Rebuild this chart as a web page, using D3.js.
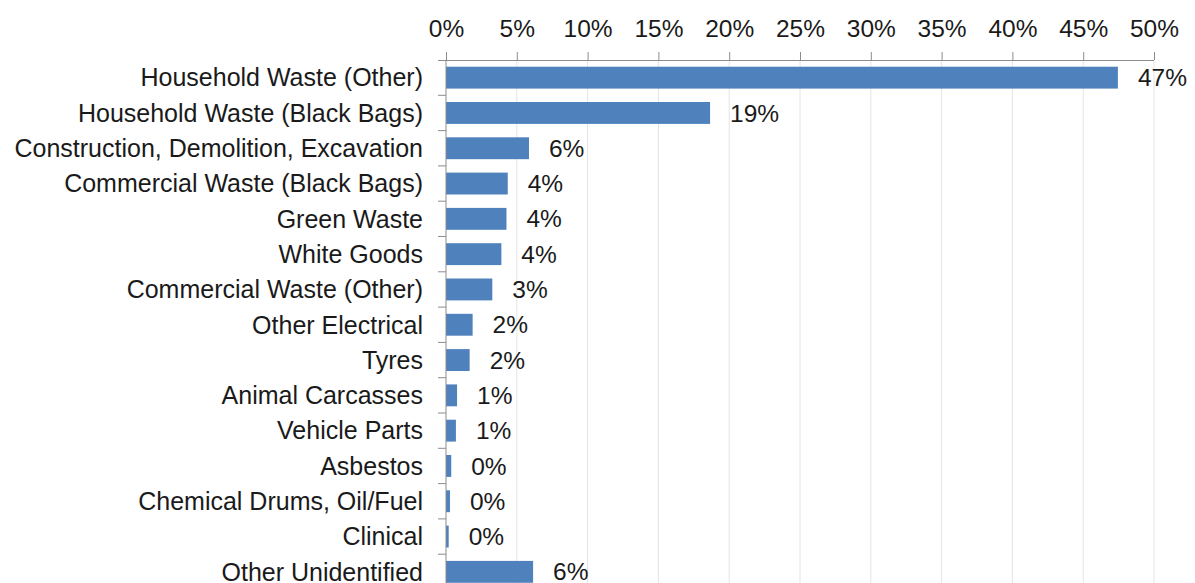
<!DOCTYPE html>
<html>
<head>
<meta charset="utf-8">
<script src="https://cdn.jsdelivr.net/npm/d3@7"></script>
<style>
  body { margin: 0; background: #fff; }
  text { font-family: "Liberation Sans", Arial, sans-serif; fill: #1a1a1a; }
</style>
</head>
<body>
<div id="chart"></div>
<script>
let width = 1195;
let height = 583;

// categories, top to bottom
const categories = [
  "Household Waste (Other)",
  "Household Waste (Black Bags)",
  "Construction, Demolition, Excavation",
  "Commercial Waste (Black Bags)",
  "Green Waste",
  "White Goods",
  "Commercial Waste (Other)",
  "Other Electrical",
  "Tyres",
  "Animal Carcasses",
  "Vehicle Parts",
  "Asbestos",
  "Chemical Drums, Oil/Fuel",
  "Clinical",
  "Other Unidentified"
];
// share of incidents in %
const shares = [47.45, 18.65, 5.86, 4.36, 4.27, 3.91, 3.27, 1.88, 1.67, 0.78, 0.7, 0.37, 0.28, 0.19, 6.15];
const xTicks = [0, 5, 10, 15, 20, 25, 30, 35, 40, 45, 50];

const data = categories.map((c, i) => ({ name: c, value: shares[i] }));

let svg = d3.select("#chart").append("svg")
  .attr("width", width)
  .attr("height", height);

const x = d3.scaleLinear()
  .domain([0, 50])
  .range([446, 1154]);

const y = d3.scaleBand()
  .domain(categories)
  .range([60, 589.5])
  .paddingInner(0.38)
  .paddingOuter(0.19);

// gridlines
svg.selectAll(".grid")
  .data(xTicks.slice(1))
  .join("line")
  .attr("class", "grid")
  .attr("x1", d => x(d))
  .attr("x2", d => x(d))
  .attr("y1", 60)
  .attr("y2", height)
  .attr("stroke", "#e4e4e4")
  .attr("stroke-width", 1);

// bars
svg.selectAll(".bar")
  .data(data)
  .join("rect")
  .attr("class", "bar")
  .attr("x", x(0))
  .attr("y", d => y(d.name))
  .attr("width", d => x(d.value) - x(0))
  .attr("height", y.bandwidth())
  .attr("fill", "#4f81bd");

// top axis
const axisColor = "#8c8c8c";
const topAxis = svg.append("g")
  .attr("transform", "translate(0,60)")
  .call(d3.axisTop(x).tickValues(xTicks).tickSize(8).tickPadding(15).tickFormat(d => d + "%"));
topAxis.select(".domain").attr("stroke", axisColor).attr("d", `M${x(0) - 8},0.5H${x(50)}`);
topAxis.selectAll(".tick line").attr("stroke", axisColor);
topAxis.selectAll(".tick text")
  .attr("font-size", "24.5px")
  .attr("font-family", "'Liberation Sans', Arial, sans-serif")
  .attr("fill", "#1a1a1a");

// left axis line + boundary ticks
const bounds = d3.range(categories.length + 1).map(i => 60 + i * y.step());
svg.append("line")
  .attr("x1", x(0)).attr("x2", x(0))
  .attr("y1", 60).attr("y2", height)
  .attr("stroke", axisColor);
svg.selectAll(".ytick")
  .data(bounds.slice(1))
  .join("line")
  .attr("class", "ytick")
  .attr("x1", x(0) - 8).attr("x2", x(0))
  .attr("y1", d => d).attr("y2", d => d)
  .attr("stroke", axisColor);

// category labels
svg.selectAll(".catlabel")
  .data(data)
  .join("text")
  .attr("class", "catlabel")
  .attr("x", 423)
  .attr("y", d => y(d.name) + y.bandwidth() / 2)
  .attr("dy", "0.35em")
  .attr("text-anchor", "end")
  .attr("font-size", "25px")
  .text(d => d.name);

// value labels
svg.selectAll(".vallabel")
  .data(data)
  .join("text")
  .attr("class", "vallabel")
  .attr("x", d => x(d.value) + 20)
  .attr("y", d => y(d.name) + y.bandwidth() / 2)
  .attr("dy", "0.35em")
  .attr("font-size", "24.5px")
  .text(d => Math.round(d.value) + "%");
</script>
</body>
</html>
